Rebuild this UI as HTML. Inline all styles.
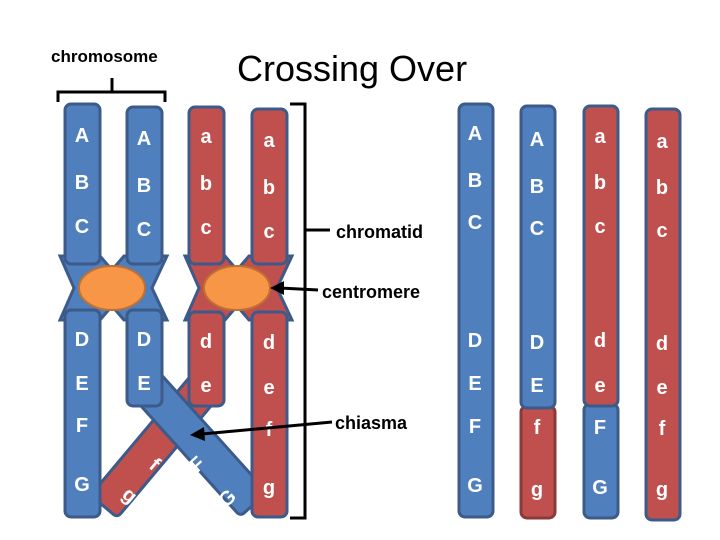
<!DOCTYPE html>
<html><head><meta charset="utf-8"><style>
body{margin:0;background:#fff;}
svg{display:block;}
.w{font-family:"Liberation Sans",sans-serif;font-weight:bold;font-size:20px;fill:#fff;text-anchor:middle;}
.k{font-family:"Liberation Sans",sans-serif;font-weight:bold;fill:#000;}
</style></head><body>
<svg width="720" height="540" viewBox="0 0 720 540" xmlns="http://www.w3.org/2000/svg">
<g stroke="#3c5a8a" stroke-width="3">
<polygon points="60,256 100,256 112,270 124,256 167,256 152,288 167,320 124,320 112,306 100,320 60,320 74,288" fill="#4f7fbd"/>
<polygon points="185,256 225,256 237,270 249,256 292,256 277,288 292,320 249,320 237,306 225,320 185,320 199,288" fill="#c0504d"/>
<rect x="65" y="104" width="35" height="160" rx="6" fill="#4f7fbd"/>
<rect x="127" y="107" width="35" height="157" rx="6" fill="#4f7fbd"/>
<rect x="189" y="107" width="35" height="157" rx="6" fill="#c0504d"/>
<rect x="252" y="109" width="35" height="155" rx="6" fill="#c0504d"/>
<rect x="-17.5" y="0" width="35" height="165" rx="5" fill="#c0504d" transform="translate(210,380) rotate(40)"/>
<rect x="-18" y="0" width="36" height="170" rx="5" fill="#4f7fbd" transform="translate(140,378) rotate(-42)"/>
<rect x="65" y="310" width="35" height="207" rx="6" fill="#4f7fbd"/>
<rect x="127" y="310" width="35" height="96" rx="6" fill="#4f7fbd"/>
<rect x="189" y="312" width="35" height="94" rx="6" fill="#c0504d"/>
<rect x="252" y="312" width="35" height="205" rx="6" fill="#c0504d"/>
<rect x="459" y="104" width="34" height="413" rx="6" fill="#4f7fbd"/>
<rect x="521" y="406" width="34" height="112" rx="6" fill="#c0504d" stroke="#8a3a3a"/>
<rect x="521" y="106" width="34" height="302" rx="6" fill="#4f7fbd"/>
<rect x="584" y="404" width="34" height="114" rx="6" fill="#4f7fbd"/>
<rect x="584" y="106" width="34" height="300" rx="6" fill="#c0504d"/>
<rect x="646" y="109" width="34" height="411" rx="6" fill="#c0504d"/>
</g>
<ellipse cx="112" cy="288" rx="33" ry="22" fill="#f79646" stroke="#c07030" stroke-width="2"/>
<ellipse cx="237" cy="288" rx="33" ry="22" fill="#f79646" stroke="#c07030" stroke-width="2"/>
<g class="w">
<text x="82" y="142">A</text><text x="144" y="145">A</text><text x="206" y="143">a</text><text x="269" y="147">a</text>
<text x="82" y="189">B</text><text x="144" y="192">B</text><text x="206" y="190">b</text><text x="269" y="194">b</text>
<text x="82" y="233">C</text><text x="144" y="236">C</text><text x="206" y="234">c</text><text x="269" y="238">c</text>
<text x="82" y="346">D</text><text x="144" y="346">D</text><text x="206" y="348">d</text><text x="269" y="349">d</text>
<text x="82" y="390">E</text><text x="144" y="390">E</text><text x="206" y="392">e</text><text x="269" y="394">e</text>
<text x="82" y="432">F</text><text x="269" y="436">f</text>
<text x="82" y="491">G</text><text x="269" y="494">g</text>
<text x="155" y="471" transform="rotate(40 155 464)">f</text>
<text x="130" y="502" transform="rotate(40 130 495)">g</text>
<text x="197" y="471" transform="rotate(-42 197 464)">F</text>
<text x="227" y="505" transform="rotate(-42 227 498)">G</text>
<text x="475" y="140">A</text><text x="537" y="146">A</text><text x="600" y="143">a</text><text x="662" y="148">a</text>
<text x="475" y="187">B</text><text x="537" y="193">B</text><text x="600" y="189">b</text><text x="662" y="194">b</text>
<text x="475" y="229">C</text><text x="537" y="235">C</text><text x="600" y="233">c</text><text x="662" y="237">c</text>
<text x="475" y="347">D</text><text x="537" y="349">D</text><text x="600" y="347">d</text><text x="662" y="350">d</text>
<text x="475" y="390">E</text><text x="537" y="392">E</text><text x="600" y="392">e</text><text x="662" y="394">e</text>
<text x="475" y="433">F</text><text x="537" y="434">f</text><text x="600" y="434">F</text><text x="662" y="435">f</text>
<text x="475" y="492">G</text><text x="537" y="496">g</text><text x="600" y="494">G</text><text x="662" y="496">g</text>
</g>
<text x="237" y="81" font-family="Liberation Sans,sans-serif" font-size="36" fill="#000">Crossing Over</text>
<text x="51" y="62" class="k" font-size="17" font-weight="normal">chromosome</text>
<path d="M58,102 V92 H165 V102 M112,92 V78" fill="none" stroke="#000" stroke-width="3"/>
<path d="M290,104 H305 V518 H290 M305,230 H330" fill="none" stroke="#000" stroke-width="3"/>
<text x="336" y="238" class="k" font-size="18">chromatid</text>
<line x1="318" y1="290" x2="280" y2="288" stroke="#000" stroke-width="3"/>
<polygon points="270,288 284,281 284,295" fill="#000"/>
<text x="322" y="298" class="k" font-size="18">centromere</text>
<line x1="332" y1="422" x2="202" y2="434" stroke="#000" stroke-width="3"/>
<polygon points="190,435 204,427 205,441" fill="#000"/>
<text x="335" y="429" class="k" font-size="18">chiasma</text>
</svg>
</body></html>
